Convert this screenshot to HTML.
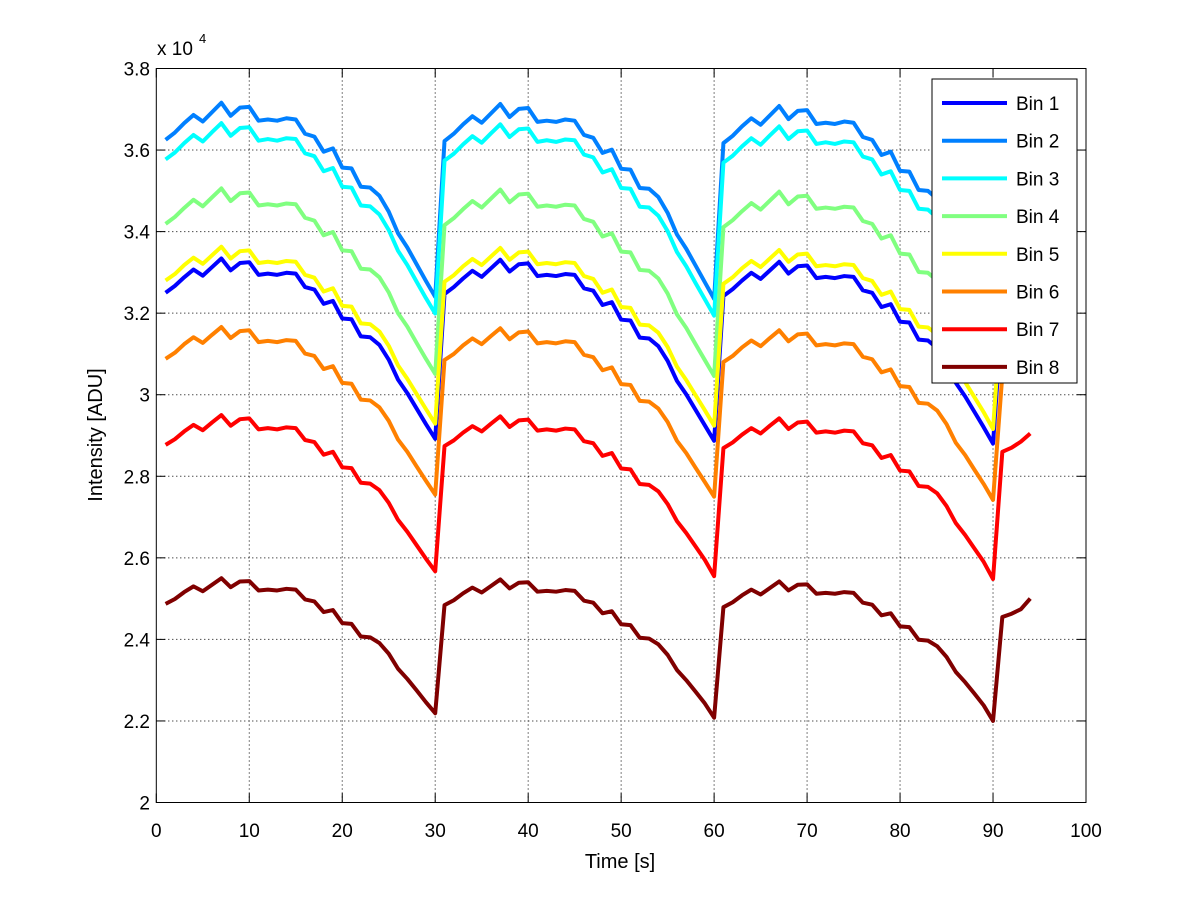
<!DOCTYPE html>
<html><head><meta charset="utf-8"><style>
html,body{margin:0;padding:0;background:#fff;}
svg text{font-family:"Liberation Sans",Arial,sans-serif;fill:#000;}
</style></head><body>
<svg id="chart" width="1200" height="901" xmlns="http://www.w3.org/2000/svg">
<rect x="0" y="0" width="1200" height="901" fill="#fff"/>
<g id="grid"></g>
<g id="series"></g>
<g id="axes"></g>
<g id="legend"></g>
</svg>
<script>
const xTicks = [0,10,20,30,40,50,60,70,80,90,100];
const yTicks = [20000,22000,24000,26000,28000,30000,32000,34000,36000,38000];
const yTickLabels = ["2","2.2","2.4","2.6","2.8","3","3.2","3.4","3.6","3.8"];
const seriesNames = ["Bin 1","Bin 2","Bin 3","Bin 4","Bin 5","Bin 6","Bin 7","Bin 8"];
const seriesColors = ["#0000ff","#0080ff","#00ffff","#80ff80","#ffff00","#ff8000","#ff0000","#800000"];
const bin1 = [32500,32670,32880,33070,32920,33130,33340,33050,33230,33250,32940,32970,32940,32990,32970,32640,32580,32230,32300,31870,31850,31430,31410,31220,30860,30370,30040,29660,29280,28920,
32470,32640,32850,33040,32890,33100,33310,33020,33200,33220,32910,32940,32910,32960,32940,32610,32550,32200,32270,31840,31820,31400,31380,31190,30830,30340,30010,29630,29250,28870,
32420,32590,32800,32990,32840,33050,33260,32970,33150,33170,32860,32890,32860,32910,32890,32560,32500,32150,32220,31790,31770,31350,31330,31140,30780,30290,29960,29580,29200,28800,
32070,32180,32320,32680];
const bin2 = [36250,36430,36660,36860,36700,36930,37160,36840,37040,37060,36720,36750,36720,36780,36750,36400,36330,35960,36040,35570,35550,35100,35080,34880,34490,33960,33610,33200,32790,32400,
36220,36400,36630,36830,36670,36900,37130,36810,37010,37030,36690,36720,36690,36750,36720,36370,36300,35930,36010,35540,35520,35070,35050,34850,34460,33930,33580,33170,32760,32350,
36170,36350,36580,36780,36620,36850,37080,36760,36960,36980,36640,36670,36640,36700,36670,36320,36250,35880,35960,35490,35470,35020,35000,34800,34410,33880,33530,33120,32710,32270,
35790,35900,36060,36440];
const bin3 = [35770,35940,36170,36370,36210,36440,36660,36350,36540,36560,36230,36270,36230,36290,36270,35920,35850,35480,35560,35100,35080,34640,34620,34420,34040,33530,33180,32770,32370,31990,
35740,35910,36140,36340,36180,36410,36630,36320,36510,36530,36200,36240,36200,36260,36240,35890,35820,35450,35530,35070,35050,34610,34590,34390,34010,33500,33150,32740,32340,31940,
35690,35860,36090,36290,36130,36360,36580,36270,36460,36480,36150,36190,36150,36210,36190,35840,35770,35400,35480,35020,35000,34560,34540,34340,33960,33450,33100,32690,32290,31860,
35320,35430,35580,35960];
const bin4 = [34190,34360,34580,34780,34620,34840,35060,34750,34940,34960,34640,34670,34640,34690,34670,34340,34270,33910,33990,33540,33520,33090,33070,32880,32510,32000,31670,31270,30880,30510,
34160,34330,34550,34750,34590,34810,35030,34720,34910,34930,34610,34640,34610,34660,34640,34310,34240,33880,33960,33510,33490,33060,33040,32850,32480,31970,31640,31240,30850,30460,
34110,34280,34500,34700,34540,34760,34980,34670,34860,34880,34560,34590,34560,34610,34590,34260,34190,33830,33910,33460,33440,33010,32990,32800,32430,31920,31590,31190,30800,30380,
33750,33860,34010,34370];
const bin5 = [32800,32960,33180,33360,33210,33420,33630,33340,33520,33540,33230,33260,33230,33280,33260,32940,32870,32530,32610,32180,32160,31750,31730,31550,31200,30720,30390,30020,29650,29290,
32770,32930,33150,33330,33180,33390,33600,33310,33490,33510,33200,33230,33200,33250,33230,32910,32840,32500,32580,32150,32130,31720,31700,31520,31170,30690,30360,29990,29620,29240,
32720,32880,33100,33280,33130,33340,33550,33260,33440,33460,33150,33180,33150,33200,33180,32860,32790,32450,32530,32100,32080,31670,31650,31470,31120,30640,30310,29940,29570,29160,
32380,32480,32620,32980];
const bin6 = [30880,31030,31240,31410,31270,31470,31660,31390,31560,31580,31290,31320,31290,31340,31320,31010,30950,30630,30700,30290,30270,29880,29860,29690,29360,28900,28600,28240,27890,27550,
30850,31000,31210,31380,31240,31440,31630,31360,31530,31550,31260,31290,31260,31310,31290,30980,30920,30600,30670,30260,30240,29850,29830,29660,29330,28870,28570,28210,27860,27500,
30800,30950,31160,31330,31190,31390,31580,31310,31480,31500,31210,31240,31210,31260,31240,30930,30870,30550,30620,30210,30190,29800,29780,29610,29280,28820,28520,28160,27810,27420,
30480,30580,30710,31050];
const bin7 = [28770,28910,29100,29260,29130,29320,29500,29240,29400,29420,29150,29180,29150,29200,29180,28890,28840,28530,28600,28220,28200,27840,27820,27660,27350,26930,26640,26310,25980,25670,
28740,28880,29070,29230,29100,29290,29470,29210,29370,29390,29120,29150,29120,29170,29150,28860,28810,28500,28570,28190,28170,27810,27790,27630,27320,26900,26610,26280,25950,25550,
28690,28830,29020,29180,29050,29240,29420,29160,29320,29340,29070,29100,29070,29120,29100,28810,28760,28450,28520,28140,28120,27760,27740,27580,27270,26850,26560,26230,25900,25480,
28600,28700,28850,29050];
const bin8 = [24870,24990,25160,25300,25180,25340,25500,25280,25420,25430,25200,25220,25200,25240,25220,24980,24930,24670,24720,24400,24380,24070,24050,23910,23650,23280,23030,22750,22460,22190,
24840,24960,25130,25270,25150,25310,25470,25250,25390,25400,25170,25190,25170,25210,25190,24950,24900,24640,24690,24370,24350,24040,24020,23880,23620,23250,23000,22720,22430,22080,
24790,24910,25080,25220,25100,25260,25420,25200,25340,25350,25120,25140,25120,25160,25140,24900,24850,24590,24640,24320,24300,23990,23970,23830,23570,23200,22950,22670,22380,22000,
24550,24630,24740,25000];
const allSeries = [bin1,bin2,bin3,bin4,bin5,bin6,bin7,bin8];

const NS = "http://www.w3.org/2000/svg";
const L = 156.3, R = 1086, T = 68.5, B = 802.5;
const xMin = 0, xMax = 100, yMin = 20000, yMax = 38000;
function xs(v){ return L + (v - xMin) / (xMax - xMin) * (R - L); }
function ys(v){ return B - (v - yMin) / (yMax - yMin) * (B - T); }
function mk(tag, attrs, parent){ const e = document.createElementNS(NS, tag); for (const k in attrs) e.setAttribute(k, attrs[k]); parent.appendChild(e); return e; }

const grid = document.getElementById('grid');
const axes = document.getElementById('axes');
const sg = document.getElementById('series');
const lg = document.getElementById('legend');

xTicks.forEach((t, i) => {
  const x = xs(t);
  if (t > xMin && t < xMax) {
    const g = mk('line', {x1:x, y1:T, x2:x, y2:B, stroke:'#000', 'stroke-width':1, 'stroke-dasharray':'1,3'}, grid);
    
    
  }
  const tk = mk('line', {x1:x, y1:B, x2:x, y2:B-9, stroke:'#000', 'stroke-width':1}, axes);
  
  
  const tk2 = mk('line', {x1:x, y1:T, x2:x, y2:T+9, stroke:'#000', 'stroke-width':1}, axes);
  
  
  const lb = mk('text', {x:x, y:837, 'font-size':19, 'text-anchor':'middle'}, axes);
  lb.textContent = String(t);
  
  
});
yTicks.forEach((t, i) => {
  const y = ys(t);
  if (t > yMin && t < yMax) {
    const g = mk('line', {x1:L, y1:y, x2:R, y2:y, stroke:'#000', 'stroke-width':1, 'stroke-dasharray':'1,3'}, grid);
    
    
  }
  const tk = mk('line', {x1:L, y1:y, x2:L+9, y2:y, stroke:'#000', 'stroke-width':1}, axes);
  
  
  const tk2 = mk('line', {x1:R, y1:y, x2:R-9, y2:y, stroke:'#000', 'stroke-width':1}, axes);
  
  
  const lb = mk('text', {x:150, y:y+7, 'font-size':19, 'text-anchor':'end'}, axes);
  lb.textContent = yTickLabels[i];
  
  
});
const box = mk('rect', {x:L, y:T, width:R-L, height:B-T, fill:'none', stroke:'#000', 'stroke-width':1}, axes);



const ex = mk('text', {x:157, y:55, 'font-size':19}, axes);
ex.textContent = 'x 10';


const ex2 = mk('text', {x:199, y:43, 'font-size':13}, axes);
ex2.textContent = '4';



const xt = mk('text', {x:620, y:868, 'font-size':20, 'text-anchor':'middle'}, axes);
xt.textContent = 'Time [s]';


const yt = mk('text', {x:0, y:0, 'font-size':20, 'text-anchor':'middle', transform:'translate(102,435) rotate(-90)'}, axes);
yt.textContent = 'Intensity [ADU]';



allSeries.forEach((arr, si) => {
  const pts = arr.map((v, i) => xs(i + 1).toFixed(2) + ',' + ys(v).toFixed(2)).join(' ');
  const pl = mk('polyline', {points:pts, fill:'none', stroke:seriesColors[si], 'stroke-width':4, 'stroke-linejoin':'round'}, sg);
  
  
});

const lbx = mk('rect', {x:932, y:79, width:145, height:304, fill:'#fff', stroke:'#000', 'stroke-width':1}, lg);


seriesNames.forEach((n, i) => {
  const y = 103 + i * 37.7;
  const ln = mk('line', {x1:942, y1:y, x2:1007, y2:y, stroke:seriesColors[i], 'stroke-width':4}, lg);
  
  
  const tx = mk('text', {x:1016, y:y+7, 'font-size':19}, lg);
  tx.textContent = n;
  
  
});
</script>
</body></html>
